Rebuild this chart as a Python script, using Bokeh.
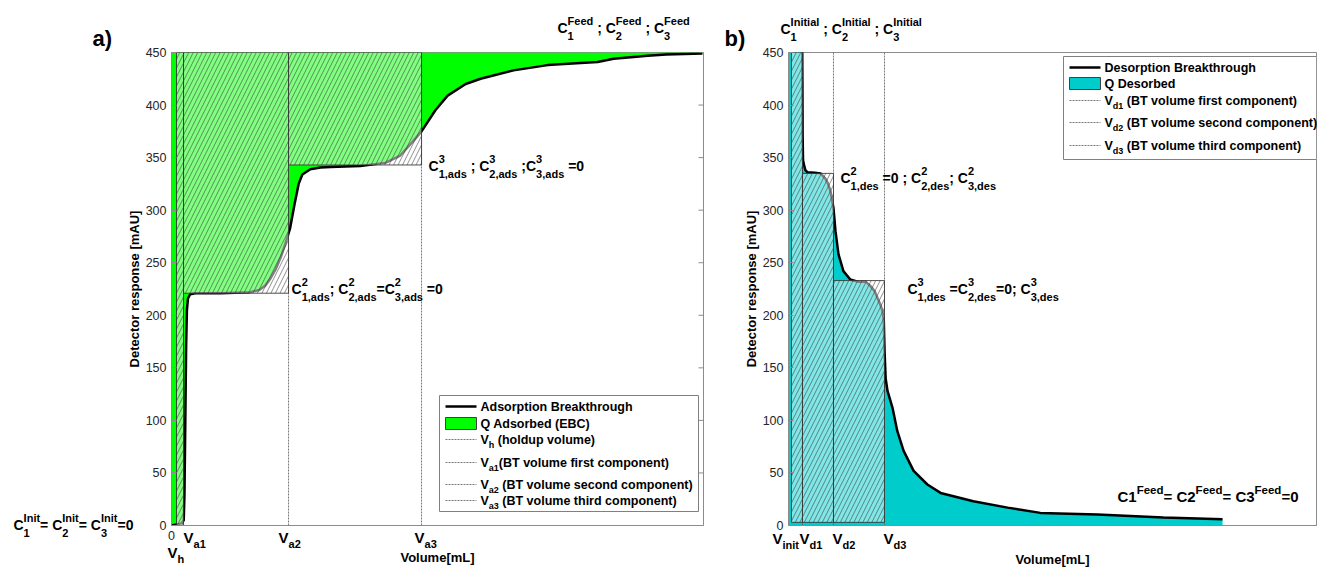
from bokeh.plotting import figure
from bokeh.layouts import row
from bokeh.models import FixedTicker, Range1d, ColumnDataSource
from bokeh.core.properties import value
from bokeh.embed import file_html
from bokeh.resources import INLINE

# ---------------- data ----------------
y_ticks = [0, 50, 100, 150, 200, 250, 300, 350, 400, 450]

# a) adsorption breakthrough
ads_volume = [0, 0.94, 1.88, 2.3, 2.44, 2.6, 2.75, 2.9, 3.1, 3.5, 4.5, 9.2, 14.8, 16.5,
              17.6, 18.6, 19.6, 20.6, 21.4, 22.3, 23.1, 23.9, 24.6, 26.1, 28.0, 29.9,
              35.5, 40.2, 43.0, 45.3, 47.0, 49.6, 51.9, 55.3, 58.1, 64.3, 70.7, 76.9,
              80.1, 83.1, 89.5, 93.0, 99.8]
ads_signal = [0, 1, 2, 5, 30, 100, 170, 205, 216, 220, 221, 221, 222, 224,
              228, 235, 244, 256, 268, 283, 305, 325, 334, 339, 340.5, 341,
              342, 345, 352, 365, 375, 395, 409, 420, 425, 433, 438, 440,
              441, 444, 447, 448, 449]
ads_feed = 450
ads_v_names = ["h", "a1", "a2", "a3"]
ads_v_values = [0.94, 2.26, 22.0, 47.0]
ads_step_bottom = [0, 221, 343]

# b) desorption breakthrough
des_volume = [0, 2.6, 2.64, 2.68, 2.75, 2.84, 3.2, 3.6, 5.0, 6.06, 7.0, 7.5, 7.95, 8.52,
              8.9, 9.47, 10.4, 11.7, 13.1, 14.6, 15.5, 16.3, 16.9, 17.4, 17.8, 18.05,
              18.2, 18.4, 18.75, 19.7, 20.6, 21.8, 23.7, 26.3, 28.8, 35.0, 41.5, 47.7,
              58.5, 71.0, 82.2]
des_signal = [455, 455, 420, 370, 348, 345, 338, 336, 335.5, 335, 330, 325, 318, 302,
              280, 258, 242, 234, 232, 232, 228, 223, 216, 210, 204, 195,
              165, 140, 128, 112, 90, 71, 52, 39, 31, 23, 17, 12,
              10.5, 7.5, 6]
des_v_names = ["init", "d1", "d2", "d3"]
des_v_values = [0.57, 2.65, 8.52, 18.18]
des_step_top = [450, 335, 233]
des_step_bottom = 3

# ---------------- styling helpers ----------------
FONT = "Liberation Sans"
GREEN = "#00FF00"
CYAN = "#00CCCC"
AXIS_GREY = "#8c8c8c"

BW = {' ': .278, ';': .333, ',': .278, '=': .584, '(': .333, ')': .333, '[': .333, ']': .333,
      '.': .278, '-': .333}
for c, w in zip("ABCDEFGHIJKLMNOPQRSTUVWXYZ",
                [.722, .722, .722, .722, .667, .611, .778, .722, .278, .556, .722, .611, .833,
                 .722, .778, .667, .778, .722, .667, .611, .722, .667, .944, .667, .667, .611]):
    BW[c] = w
for c, w in zip("abcdefghijklmnopqrstuvwxyz",
                [.556, .611, .556, .611, .556, .333, .611, .611, .278, .278, .556, .278, .889,
                 .611, .611, .611, .611, .389, .556, .333, .611, .556, .778, .556, .556, .5]):
    BW[c] = w
for c in "0123456789":
    BW[c] = .556


def tw(s, size):
    return sum(BW.get(c, .6) for c in s) * size


class Texts:
    """Collects text pieces (rich text with sub/superscripts) for one figure."""
    def __init__(self):
        self.d = dict(x=[], y=[], xo=[], yo=[], text=[], size=[])

    def put(self, x, y, text, size, dx=0, dy=0):
        # (x, y) + dy give the alphabetic baseline; glyph is anchored at its middle
        lead = len(text) - len(text.lstrip(" "))
        dx += tw(" " * lead, size)
        self.d["x"].append(x)
        self.d["y"].append(y)
        self.d["xo"].append(dx)
        self.d["yo"].append(-dy - 0.3465 * size)      # glyph offsets point down
        self.d["text"].append(text.strip(" "))
        self.d["size"].append(f"{size}px")

    def rich(self, x, y, parts, size=14, ssize=11, dx=0, sup_dy=7.5, sub_dy=-7):
        cur = dx
        for kind, val in parts:
            if kind == "n":
                self.put(x, y, val, size, cur, 0)
                cur += tw(val, size)
            elif kind == "sup":
                self.put(x, y, val, ssize, cur, sup_dy)
                cur += tw(val, ssize)
            elif kind == "sub":
                self.put(x, y, val, ssize, cur, sub_dy)
                cur += tw(val, ssize)
            else:
                sp, sb = val
                self.put(x, y, sp, ssize, cur, sup_dy)
                self.put(x, y, sb, ssize, cur, sub_dy)
                cur += max(tw(sp, ssize), tw(sb, ssize))

    def draw(self, p):
        p.text(x="x", y="y", text="text", x_offset="xo", y_offset="yo",
               source=ColumnDataSource(self.d), text_font=value(FONT),
               text_font_size="size", text_font_style="bold", text_align="left",
               text_baseline="middle", text_color="black", level="overlay")


# annotation placement: reference-pixel -> data helpers
PXL, PXR, PY = 532 / 100, 5.28, 473 / 450
def lx(px): return (px - 171) / PXL
def rx(px): return (px - 788) / PXR
def yy(py): return (525 - py) / PY


def style_axes(p, xticks, xstand):
    p.xgrid.visible = False
    p.ygrid.visible = False
    p.outline_line_color = AXIS_GREY
    p.background_fill_color = "white"
    p.border_fill_color = "white"
    for ax in (p.xaxis[0], p.yaxis[0]):
        ax.axis_line_color = AXIS_GREY
        ax.major_tick_line_color = AXIS_GREY
        ax.major_tick_in = 5
        ax.major_tick_out = 0
        ax.minor_tick_line_color = None
        ax.major_label_text_font = FONT
        ax.major_label_text_font_size = "12.5px"
        ax.major_label_text_color = "#262626"
        ax.major_label_standoff = 5
        ax.axis_label_text_font = FONT
        ax.axis_label_text_font_style = "bold"
        ax.axis_label_text_font_size = "13px"
        ax.axis_label_text_color = "black"
    p.yaxis.ticker = FixedTicker(ticks=y_ticks)
    p.yaxis.axis_label = "Detector response [mAU]"
    p.yaxis.axis_label_standoff = 1
    p.xaxis.ticker = FixedTicker(ticks=xticks)
    p.xaxis.axis_label = "Volume[mL]"
    p.xaxis.axis_label_standoff = xstand


def hatched(p, left, right, bottom, top):
    p.quad(left=left, right=right, bottom=bottom, top=top, fill_color="white", fill_alpha=0.5,
           hatch_pattern="/", hatch_color="#333333", hatch_alpha=0.55, hatch_scale=9,
           hatch_weight=1, line_color="#333333", line_alpha=0.85, line_width=1)


def legend_rows(p, T, fx, x_sw0, x_sw1, x_txt, rows, box, color):
    bl, br, bt, bb = box
    p.quad(left=[bl], right=[br], top=[bt], bottom=[bb], fill_color="white",
           line_color="#808080", line_width=1)
    for kind, yc, parts in rows:
        if kind == "line":
            p.segment(x0=[fx(x_sw0)], x1=[fx(x_sw1)], y0=[yy(yc)], y1=[yy(yc)],
                      line_color="black", line_width=2.5)
        elif kind == "patch":
            p.quad(left=[fx(x_sw0)], right=[fx(x_sw1)], top=[yy(yc - 6)], bottom=[yy(yc + 6)],
                   fill_color=color, line_color="#404040", line_width=1)
        else:
            p.segment(x0=[fx(x_sw0)], x1=[fx(x_sw1)], y0=[yy(yc)], y1=[yy(yc)],
                      line_color="#555555", line_width=0.8, line_dash="2 1")
        T.rich(fx(x_txt), yy(yc + 4.5), parts, size=12.5, ssize=9, sub_dy=-4.5)


# ---------------- panel a ----------------
p1 = figure(frame_width=532, frame_height=473, x_range=Range1d(0, 100), y_range=Range1d(0, 450),
            min_border_left=171, min_border_right=17, min_border_top=52, min_border_bottom=41,
            output_backend="svg", toolbar_location=None)
style_axes(p1, [0], 7)
T1 = Texts()

p1.varea(x=ads_volume, y1=ads_signal, y2=ads_feed, fill_color=GREEN)
p1.segment(x0=ads_v_values, x1=ads_v_values, y0=0, y1=ads_feed,
           line_color="#555555", line_width=0.8, line_dash="2 1")
p1.line(ads_volume, ads_signal, line_color="black", line_width=2.5)
hatched(p1, ads_v_values[:3], ads_v_values[1:], ads_step_bottom, ads_feed)
# box-style inward ticks on the right edge
p1.segment(x0=100 - 5 / PXL, x1=100, y0=y_ticks, y1=y_ticks, line_color=AXIS_GREY, line_width=1)

legend_rows(p1, T1, lx, 445, 476, 480, [
    ("line", 406, [("n", "Adsorption Breakthrough")]),
    ("patch", 423, [("n", "Q Adsorbed (EBC)")]),
    ("dot", 439, [("n", "V"), ("sub", "h"), ("n", " (holdup volume)")]),
    ("dot", 462, [("n", "V"), ("sub", "a1"), ("n", "(BT volume first component)")]),
    ("dot", 484, [("n", "V"), ("sub", "a2"), ("n", " (BT volume second component)")]),
    ("dot", 500, [("n", "V"), ("sub", "a3"), ("n", " (BT volume third component)")]),
], (lx(439), lx(698), yy(395), yy(511)), GREEN)

T1.put(lx(92), yy(46), "a)", 22)
T1.rich(lx(557), yy(32), [("n", "C"), ("ss", ("Feed", "1")), ("n", " ; C"), ("ss", ("Feed", "2")),
                          ("n", " ; C"), ("ss", ("Feed", "3"))])
T1.rich(lx(13), yy(529), [("n", "C"), ("ss", ("Init", "1")), ("n", "= C"), ("ss", ("Init", "2")),
                          ("n", "= C"), ("ss", ("Init", "3")), ("n", "=0")])
T1.rich(ads_v_values[2], yy(293), [("n", "C"), ("ss", ("2", "1,ads")), ("n", "; C"),
                                   ("ss", ("2", "2,ads")), ("n", "=C"), ("ss", ("2", "3,ads")),
                                   ("n", " =0")], dx=3)
T1.rich(ads_v_values[3], yy(170), [("n", "C"), ("ss", ("3", "1,ads")), ("n", " ; C"),
                                   ("ss", ("3", "2,ads")), ("n", " ;C"), ("ss", ("3", "3,ads")),
                                   ("n", " =0")], dx=7)
for name, v, off, base in zip(ads_v_names, ads_v_values, [-9, 0, -10, -7], [557, 542, 542, 542]):
    T1.rich(v, yy(base), [("n", "V"), ("sub", name)], size=15, ssize=11, dx=off, sub_dy=-5)
T1.draw(p1)

# ---------------- panel b ----------------
xr_end = 528 / PXR
p2 = figure(frame_width=528, frame_height=473, x_range=Range1d(0, xr_end), y_range=Range1d(0, 450),
            min_border_left=68, min_border_right=2, min_border_top=52, min_border_bottom=41,
            output_backend="svg", toolbar_location=None)
style_axes(p2, [], 26)
T2 = Texts()

p2.varea(x=des_volume, y1=0, y2=des_signal, fill_color=CYAN)
p2.segment(x0=des_v_values[1:], x1=des_v_values[1:], y0=0, y1=450,
           line_color="#555555", line_width=0.8, line_dash="2 1")
p2.line(des_volume, des_signal, line_color="black", line_width=2.5)
hatched(p2, des_v_values[:3], des_v_values[1:], des_step_bottom, des_step_top)

legend_rows(p2, T2, rx, 1069, 1100, 1104, [
    ("line", 67, [("n", "Desorption Breakthrough")]),
    ("patch", 83, [("n", "Q Desorbed")]),
    ("dot", 100, [("n", "V"), ("sub", "d1"), ("n", " (BT volume first component)")]),
    ("dot", 122, [("n", "V"), ("sub", "d2"), ("n", " (BT volume second component)")]),
    ("dot", 145, [("n", "V"), ("sub", "d3"), ("n", " (BT volume third component)")]),
], (rx(1063), xr_end, yy(56), yy(159)), CYAN)

T2.put(rx(724), yy(46), "b)", 22)
T2.rich(rx(780), yy(33), [("n", "C"), ("ss", ("Initial", "1")), ("n", " ; C"),
                          ("ss", ("Initial", "2")), ("n", " ; C"), ("ss", ("Initial", "3"))])
T2.rich(des_v_values[2], yy(182), [("n", "C"), ("ss", ("2", "1,des")), ("n", " =0 ; C"),
                                   ("ss", ("2", "2,des")), ("n", "; C"), ("ss", ("2", "3,des"))],
        dx=7)
T2.rich(des_v_values[3], yy(293), [("n", "C"), ("ss", ("3", "1,des")), ("n", " =C"),
                                   ("ss", ("3", "2,des")), ("n", "=0; C"), ("ss", ("3", "3,des"))],
        dx=23)
T2.rich(rx(1117), yy(501), [("n", "C1"), ("sup", "Feed"), ("n", "= C2"), ("sup", "Feed"),
                            ("n", "= C3"), ("sup", "Feed"), ("n", "=0")], size=15, ssize=11.5)
for name, v, off in zip(des_v_names, des_v_values, [-19, -3, -1, -1]):
    T2.rich(v, yy(543), [("n", "V"), ("sub", name)], size=15, ssize=11, dx=off, sub_dy=-5)
T2.draw(p2)

layout = row(p1, p2)
open("out.html", "w").write(file_html(layout, INLINE))
